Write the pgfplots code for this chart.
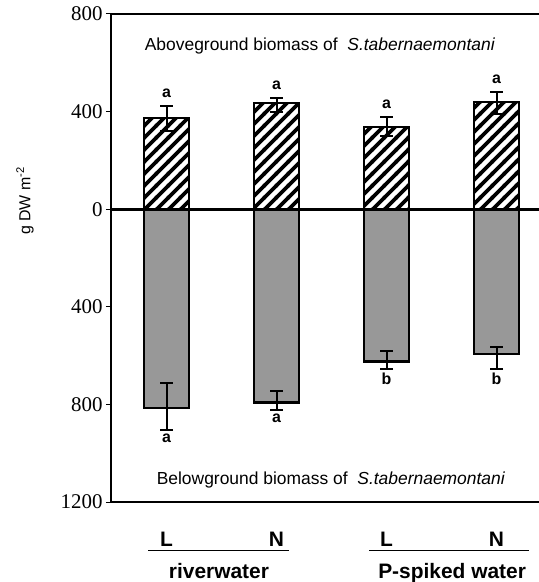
\documentclass[border=0pt]{standalone}
\usepackage{pgfplots}
\pgfplotsset{compat=1.18}
\usepackage{fontspec}
\setmainfont{Liberation Serif}
\newfontfamily\arial{Liberation Sans}
\usetikzlibrary{patterns}
\definecolor{barGray}{RGB}{152,152,152}
\pgfdeclarepatternformonly{thickstripes}{\pgfqpoint{-2bp}{-2bp}}{\pgfqpoint{14bp}{14bp}}{\pgfqpoint{12bp}{12bp}}{%
  \pgfsetlinewidth{3.8bp}%
  \pgfpathmoveto{\pgfqpoint{-2bp}{-2bp}}%
  \pgfpathlineto{\pgfqpoint{14bp}{14bp}}%
  \pgfusepath{stroke}}
\begin{document}
\begin{tikzpicture}
\begin{axis}[
  at={(0,0)}, anchor=south west,
  scale only axis, width=428bp, height=488bp,
  xmin=0.4955, xmax=4.386, ymin=-1200, ymax=800,
  clip=false,
  axis x line*=box, axis y line*=left,
  axis line style={line width=1.5bp, black},
  xtick={1,2,3,4}, xticklabels={L,N,L,N},
  xtick style={draw=none},
  xticklabel style={font=\arial\bfseries\fontsize{21}{21}\selectfont, anchor=base, yshift=-39bp},
  ytick={-1200,-800,-400,0,400,800},
  yticklabels={1200,800,400,0,400,800},
  yticklabel style={font=\fontsize{21}{21}\selectfont},
  tick align=outside, major tick length=5bp,
  ytick style={line width=1bp, black},
  ylabel={g DW m\textsuperscript{-2}},
  ylabel style={font=\arial\fontsize{16}{17}\selectfont, at={(axis description cs:-0.201,0.617)}, anchor=center},
  error bars/error mark options={rotate=90, line width=2bp, mark size=6.5bp, black},
  error bars/error bar style={line width=2bp, black},
]
\addplot[ybar, bar width=45bp, bar shift=0pt, draw=black, line width=2.2bp, pattern=thickstripes,
  error bars/.cd, y dir=both, y explicit]
  coordinates {(1,375) += (0,47) -= (0,55)
               (2,435) += (0,20) -= (0,37)
               (3,336) += (0,41) -= (0,37)
               (4,439) += (0,41) -= (0,49)};
\addplot[ybar, bar width=45bp, bar shift=0pt, draw=black, line width=2.2bp, fill=barGray,
  error bars/.cd, y dir=both, y explicit]
  coordinates {(1,-816) += (0,102) -= (0,90)
               (2,-792) += (0,46) -= (0,32)
               (3,-624) += (0,42) -= (0,32)
               (4,-595) += (0,29) -= (0,61)};
\addplot[draw=none, mark=none, nodes near coords, point meta=explicit symbolic,
  every node near coord/.append style={font=\arial\bfseries\fontsize{16}{16}\selectfont, anchor=south, inner sep=0pt, yshift=8bp}]
  coordinates {(1,422)[a] (2,455)[a] (3,377)[a] (4,480)[a]};
\addplot[draw=none, mark=none, nodes near coords, point meta=explicit symbolic,
  every node near coord/.append style={font=\arial\bfseries\fontsize{16}{16}\selectfont, anchor=north, inner sep=0pt, yshift=-3bp}]
  coordinates {(1,-906)[a] (2,-824)[a] (3,-656)[b] (4,-656)[b]};
\draw[line width=3bp, black] (axis cs:0.4955,0) -- (axis cs:4.386,0);
\node[font=\arial\fontsize{17.5}{18}\selectfont, anchor=base] at (axis cs:2.395,652) {Aboveground biomass of\ \ \textit{S.tabernaemontani}};
\node[font=\arial\fontsize{17.5}{18}\selectfont, anchor=base] at (axis cs:2.495,-1130) {Belowground biomass of\ \ \textit{S.tabernaemontani}};
\draw[line width=1bp, black] (axis cs:0.832,-1400) -- (axis cs:2.114,-1400);
\draw[line width=1bp, black] (axis cs:2.841,-1400) -- (axis cs:4.295,-1400);
\node[font=\arial\bfseries\fontsize{21}{21}\selectfont, anchor=base] at (axis cs:1.477,-1515) {riverwater};
\node[font=\arial\bfseries\fontsize{21}{21}\selectfont, anchor=base] at (axis cs:3.596,-1515) {P-spiked water};
\end{axis}
\pgfresetboundingbox
\path[use as bounding box] ([shift={(-111bp,-80bp)}]current axis.south west) rectangle ([shift={(428bp,502bp)}]current axis.south west);
\end{tikzpicture}
\end{document}
